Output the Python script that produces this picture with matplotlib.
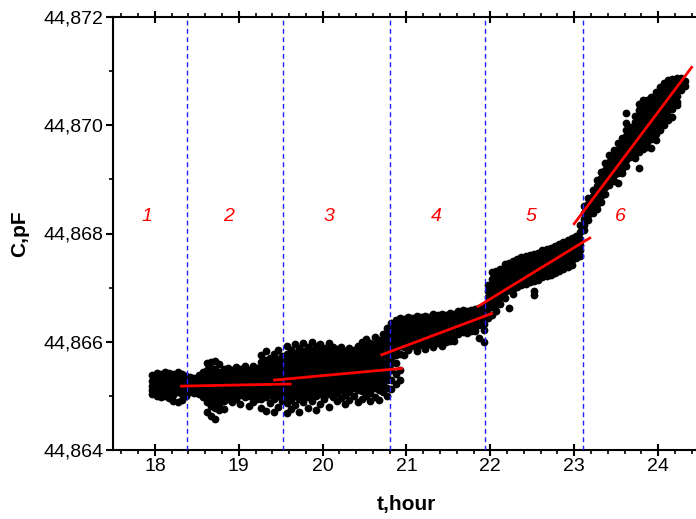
import numpy as np
import matplotlib
matplotlib.use("Agg")
import matplotlib.pyplot as plt
from matplotlib.ticker import MultipleLocator, FuncFormatter

plt.rcParams['font.family'] = ['Liberation Sans', 'DejaVu Sans']

# measured capacitance, grouped by time column (hours), one list of C values (pF) per column
t_seg1 = [17.97, 18.02, 18.07, 18.12, 18.17, 18.22, 18.27, 18.32, 18.37]
c_seg1 = [
    [44.86538, 44.86528, 44.86519, 44.86510, 44.86503],
    [44.86543, 44.86533, 44.86524, 44.86515, 44.86506, 44.86499],
    [44.86541, 44.86531, 44.86522, 44.86513, 44.86505, 44.86497],
    [44.86545, 44.86536, 44.86526, 44.86517, 44.86508, 44.86500],
    [44.86542, 44.86532, 44.86523, 44.86514, 44.86504, 44.86496],
    [44.86540, 44.86530, 44.86520, 44.86511, 44.86502, 44.86490],
    [44.86544, 44.86535, 44.86525, 44.86516, 44.86507, 44.86488],
    [44.86541, 44.86531, 44.86522, 44.86512, 44.86503, 44.86492],
    [44.86536, 44.86527, 44.86518, 44.86509, 44.86500],
]

t_seg2 = [18.42, 18.47, 18.52, 18.57, 18.62, 18.67, 18.72, 18.77, 18.82, 18.87,
          18.92, 18.97, 19.02, 19.07, 19.12, 19.17, 19.22, 19.27, 19.32, 19.37,
          19.42, 19.47, 19.52]
c_seg2 = [
    [44.86535, 44.86526, 44.86517, 44.86508],
    [44.86533, 44.86524, 44.86515, 44.86506],
    [44.86538, 44.86529, 44.86520, 44.86511, 44.86503],
    [44.86545, 44.86534, 44.86525, 44.86516, 44.86507, 44.86498],
    [44.86560, 44.86548, 44.86537, 44.86527, 44.86518, 44.86509, 44.86499, 44.86488, 44.86470],
    [44.86563, 44.86552, 44.86540, 44.86530, 44.86521, 44.86512, 44.86503, 44.86493, 44.86482, 44.86463],
    [44.86565, 44.86550, 44.86538, 44.86528, 44.86519, 44.86510, 44.86500, 44.86490, 44.86478, 44.86458],
    [44.86558, 44.86545, 44.86534, 44.86524, 44.86515, 44.86505, 44.86495, 44.86485, 44.86473],
    [44.86550, 44.86540, 44.86530, 44.86520, 44.86511, 44.86501, 44.86490, 44.86476],
    [44.86552, 44.86541, 44.86532, 44.86522, 44.86513, 44.86503, 44.86494],
    [44.86548, 44.86537, 44.86528, 44.86519, 44.86509, 44.86500, 44.86488],
    [44.86553, 44.86542, 44.86532, 44.86523, 44.86513, 44.86504, 44.86494],
    [44.86550, 44.86540, 44.86530, 44.86521, 44.86511, 44.86501, 44.86485],
    [44.86555, 44.86545, 44.86535, 44.86526, 44.86516, 44.86507, 44.86497],
    [44.86548, 44.86538, 44.86529, 44.86519, 44.86510, 44.86500, 44.86482],
    [44.86556, 44.86546, 44.86536, 44.86527, 44.86517, 44.86508, 44.86498, 44.86489],
    [44.86552, 44.86542, 44.86533, 44.86523, 44.86514, 44.86505, 44.86495],
    [44.86575, 44.86562, 44.86552, 44.86542, 44.86533, 44.86523, 44.86514, 44.86504, 44.86494, 44.86478],
    [44.86582, 44.86566, 44.86555, 44.86545, 44.86536, 44.86526, 44.86517, 44.86507, 44.86497, 44.86472],
    [44.86570, 44.86559, 44.86549, 44.86540, 44.86530, 44.86521, 44.86511, 44.86501, 44.86486],
    [44.86578, 44.86564, 44.86553, 44.86543, 44.86534, 44.86524, 44.86515, 44.86505, 44.86494, 44.86470],
    [44.86585, 44.86568, 44.86556, 44.86547, 44.86537, 44.86528, 44.86518, 44.86509, 44.86499, 44.86480],
    [44.86574, 44.86562, 44.86551, 44.86541, 44.86532, 44.86522, 44.86513, 44.86503, 44.86490],
]

t_seg3 = [19.57, 19.62, 19.67, 19.72, 19.77, 19.82, 19.87, 19.92, 19.97, 20.02,
          20.07, 20.12, 20.17, 20.22, 20.27, 20.32, 20.37, 20.42, 20.47, 20.52,
          20.57, 20.62, 20.67, 20.72, 20.77]
c_seg3 = [
    [44.86592, 44.86578, 44.86567, 44.86557, 44.86547, 44.86538, 44.86528, 44.86519, 44.86509, 44.86499, 44.86486, 44.86468],
    [44.86585, 44.86572, 44.86561, 44.86551, 44.86542, 44.86532, 44.86523, 44.86513, 44.86503, 44.86492, 44.86475],
    [44.86596, 44.86580, 44.86569, 44.86558, 44.86548, 44.86539, 44.86529, 44.86520, 44.86510, 44.86500, 44.86483],
    [44.86588, 44.86575, 44.86564, 44.86554, 44.86544, 44.86535, 44.86525, 44.86516, 44.86506, 44.86495, 44.86470],
    [44.86598, 44.86583, 44.86571, 44.86560, 44.86550, 44.86541, 44.86531, 44.86522, 44.86512, 44.86502, 44.86488],
    [44.86590, 44.86577, 44.86566, 44.86556, 44.86546, 44.86537, 44.86527, 44.86518, 44.86508, 44.86497, 44.86478],
    [44.86599, 44.86585, 44.86573, 44.86562, 44.86552, 44.86543, 44.86533, 44.86524, 44.86514, 44.86504, 44.86490],
    [44.86592, 44.86579, 44.86568, 44.86558, 44.86548, 44.86539, 44.86529, 44.86520, 44.86510, 44.86500, 44.86474],
    [44.86596, 44.86582, 44.86571, 44.86561, 44.86551, 44.86542, 44.86532, 44.86523, 44.86513, 44.86503, 44.86485],
    [44.86588, 44.86576, 44.86565, 44.86555, 44.86546, 44.86536, 44.86527, 44.86517, 44.86507, 44.86494],
    [44.86598, 44.86584, 44.86572, 44.86562, 44.86552, 44.86543, 44.86533, 44.86524, 44.86514, 44.86504, 44.86480],
    [44.86590, 44.86578, 44.86567, 44.86557, 44.86548, 44.86538, 44.86529, 44.86519, 44.86509, 44.86497],
    [44.86586, 44.86575, 44.86564, 44.86554, 44.86545, 44.86535, 44.86526, 44.86516, 44.86505, 44.86490],
    [44.86590, 44.86579, 44.86568, 44.86558, 44.86549, 44.86539, 44.86530, 44.86520, 44.86510, 44.86496],
    [44.86583, 44.86572, 44.86562, 44.86552, 44.86543, 44.86533, 44.86524, 44.86514, 44.86502, 44.86485],
    [44.86588, 44.86577, 44.86566, 44.86556, 44.86547, 44.86537, 44.86528, 44.86518, 44.86508, 44.86493],
    [44.86584, 44.86573, 44.86563, 44.86553, 44.86544, 44.86534, 44.86525, 44.86515, 44.86500],
    [44.86592, 44.86580, 44.86569, 44.86559, 44.86550, 44.86540, 44.86531, 44.86521, 44.86511, 44.86488],
    [44.86600, 44.86588, 44.86577, 44.86567, 44.86557, 44.86548, 44.86538, 44.86529, 44.86519, 44.86509, 44.86495],
    [44.86606, 44.86593, 44.86582, 44.86571, 44.86561, 44.86552, 44.86542, 44.86533, 44.86523, 44.86513, 44.86500],
    [44.86598, 44.86586, 44.86575, 44.86565, 44.86555, 44.86546, 44.86536, 44.86527, 44.86517, 44.86505, 44.86490],
    [44.86609, 44.86595, 44.86583, 44.86572, 44.86562, 44.86553, 44.86543, 44.86534, 44.86524, 44.86514, 44.86498],
    [44.86604, 44.86591, 44.86580, 44.86569, 44.86559, 44.86550, 44.86540, 44.86531, 44.86521, 44.86510, 44.86492],
    [44.86615, 44.86602, 44.86590, 44.86579, 44.86569, 44.86559, 44.86550, 44.86540, 44.86531, 44.86521, 44.86508],
    [44.86626, 44.86612, 44.86600, 44.86589, 44.86579, 44.86569, 44.86559, 44.86550, 44.86540, 44.86530, 44.86515, 44.86500],
]

t_seg4 = [20.82, 20.87, 20.92, 20.97, 21.02, 21.07, 21.12, 21.17, 21.22, 21.27,
          21.32, 21.37, 21.42, 21.47, 21.52, 21.57, 21.62, 21.67, 21.72, 21.77,
          21.82, 21.87, 21.92]
c_seg4 = [
    [44.86634, 44.86622, 44.86611, 44.86600, 44.86590, 44.86580, 44.86570, 44.86560, 44.86548, 44.86530, 44.86512],
    [44.86640, 44.86628, 44.86617, 44.86606, 44.86596, 44.86586, 44.86575, 44.86560, 44.86540, 44.86522],
    [44.86644, 44.86633, 44.86622, 44.86612, 44.86602, 44.86592, 44.86578, 44.86548, 44.86530],
    [44.86642, 44.86631, 44.86620, 44.86610, 44.86600, 44.86591, 44.86575],
    [44.86645, 44.86634, 44.86623, 44.86613, 44.86603, 44.86594, 44.86585],
    [44.86643, 44.86632, 44.86621, 44.86611, 44.86601, 44.86592],
    [44.86647, 44.86636, 44.86625, 44.86615, 44.86605, 44.86595, 44.86583],
    [44.86645, 44.86634, 44.86624, 44.86614, 44.86604, 44.86594],
    [44.86648, 44.86637, 44.86626, 44.86616, 44.86606, 44.86596, 44.86586],
    [44.86646, 44.86635, 44.86625, 44.86615, 44.86605, 44.86595],
    [44.86651, 44.86640, 44.86629, 44.86619, 44.86609, 44.86599, 44.86590],
    [44.86649, 44.86638, 44.86628, 44.86618, 44.86608, 44.86598],
    [44.86652, 44.86641, 44.86631, 44.86621, 44.86611, 44.86601, 44.86592],
    [44.86650, 44.86639, 44.86629, 44.86619, 44.86609, 44.86600],
    [44.86653, 44.86642, 44.86632, 44.86622, 44.86612, 44.86602],
    [44.86651, 44.86640, 44.86630, 44.86620, 44.86610, 44.86601],
    [44.86656, 44.86645, 44.86635, 44.86625, 44.86615],
    [44.86658, 44.86647, 44.86637, 44.86627, 44.86618],
    [44.86657, 44.86646, 44.86636, 44.86626, 44.86617],
    [44.86659, 44.86648, 44.86638, 44.86628, 44.86619],
    [44.86660, 44.86649, 44.86639, 44.86629, 44.86620],
    [44.86662, 44.86651, 44.86641, 44.86631, 44.86607],
    [44.86664, 44.86653, 44.86643, 44.86633, 44.86622, 44.86600],
]

t_seg5 = [21.97, 22.02, 22.07, 22.12, 22.17, 22.22, 22.27, 22.32, 22.37, 22.42,
          22.47, 22.52, 22.57, 22.62, 22.67, 22.72, 22.77, 22.82, 22.87, 22.92,
          22.97, 23.02, 23.07]
c_seg5 = [
    [44.86705, 44.86694, 44.86683, 44.86672, 44.86662, 44.86652, 44.86643],
    [44.86728, 44.86716, 44.86705, 44.86694, 44.86684, 44.86674, 44.86664, 44.86650],
    [44.86731, 44.86720, 44.86709, 44.86698, 44.86688, 44.86678, 44.86668, 44.86656],
    [44.86735, 44.86724, 44.86713, 44.86703, 44.86693, 44.86683, 44.86670],
    [44.86744, 44.86733, 44.86722, 44.86712, 44.86702, 44.86692, 44.86681],
    [44.86746, 44.86735, 44.86725, 44.86715, 44.86705, 44.86695, 44.86662],
    [44.86750, 44.86739, 44.86728, 44.86718, 44.86708, 44.86698, 44.86688],
    [44.86752, 44.86741, 44.86731, 44.86721, 44.86711, 44.86701],
    [44.86756, 44.86745, 44.86735, 44.86725, 44.86715, 44.86705],
    [44.86758, 44.86747, 44.86737, 44.86727, 44.86717, 44.86707],
    [44.86760, 44.86749, 44.86739, 44.86729, 44.86719, 44.86710],
    [44.86762, 44.86751, 44.86741, 44.86731, 44.86721, 44.86712, 44.86694, 44.86686],
    [44.86764, 44.86753, 44.86743, 44.86733, 44.86723, 44.86714],
    [44.86769, 44.86758, 44.86748, 44.86738, 44.86728, 44.86719],
    [44.86771, 44.86760, 44.86750, 44.86740, 44.86730, 44.86721],
    [44.86774, 44.86763, 44.86753, 44.86743, 44.86733, 44.86724],
    [44.86777, 44.86766, 44.86756, 44.86746, 44.86736, 44.86727],
    [44.86780, 44.86769, 44.86759, 44.86749, 44.86739, 44.86730],
    [44.86784, 44.86773, 44.86763, 44.86753, 44.86743, 44.86734],
    [44.86788, 44.86777, 44.86767, 44.86757, 44.86747, 44.86738],
    [44.86792, 44.86781, 44.86771, 44.86761, 44.86751, 44.86742],
    [44.86795, 44.86784, 44.86774, 44.86764, 44.86754],
    [44.86815, 44.86802, 44.86790, 44.86779, 44.86769, 44.86759],
]

t_seg6 = [23.12, 23.17, 23.22, 23.27, 23.32, 23.37, 23.42, 23.47, 23.52, 23.57,
          23.62, 23.67, 23.72, 23.77, 23.82, 23.87, 23.92, 23.97, 24.02, 24.07,
          24.12, 24.17, 24.22, 24.27, 24.32]
c_seg6 = [
    [44.86850, 44.86838, 44.86827, 44.86816, 44.86806],
    [44.86866, 44.86855, 44.86844, 44.86834, 44.86825],
    [44.86880, 44.86869, 44.86858, 44.86847, 44.86838],
    [44.86899, 44.86887, 44.86876, 44.86865, 44.86855, 44.86845],
    [44.86914, 44.86902, 44.86891, 44.86880, 44.86869, 44.86858],
    [44.86930, 44.86918, 44.86907, 44.86896, 44.86885, 44.86873],
    [44.86945, 44.86933, 44.86922, 44.86911, 44.86900, 44.86889],
    [44.86954, 44.86942, 44.86931, 44.86920, 44.86909, 44.86897],
    [44.86967, 44.86955, 44.86944, 44.86933, 44.86922, 44.86911, 44.86893],
    [44.86976, 44.86964, 44.86953, 44.86942, 44.86931, 44.86920, 44.86912],
    [44.87023, 44.87004, 44.86991, 44.86980, 44.86969, 44.86958, 44.86947, 44.86936, 44.86925],
    [44.86997, 44.86986, 44.86975, 44.86964, 44.86953, 44.86942],
    [44.87018, 44.87006, 44.86995, 44.86984, 44.86973, 44.86962, 44.86951, 44.86940],
    [44.87040, 44.87028, 44.87017, 44.87006, 44.86995, 44.86984, 44.86973, 44.86962, 44.86951, 44.86921],
    [44.87046, 44.87034, 44.87023, 44.87012, 44.87001, 44.86990, 44.86979, 44.86968, 44.86956],
    [44.87047, 44.87035, 44.87024, 44.87013, 44.87002, 44.86991, 44.86980, 44.86969, 44.86960],
    [44.87052, 44.87040, 44.87029, 44.87018, 44.87007, 44.86996, 44.86985, 44.86974, 44.86958],
    [44.87061, 44.87049, 44.87038, 44.87027, 44.87016, 44.87005, 44.86994, 44.86983, 44.86972],
    [44.87070, 44.87058, 44.87047, 44.87036, 44.87025, 44.87014, 44.87003, 44.86992],
    [44.87078, 44.87066, 44.87055, 44.87044, 44.87033, 44.87022, 44.87011, 44.87000],
    [44.87084, 44.87072, 44.87061, 44.87050, 44.87039, 44.87028, 44.87017, 44.87010],
    [44.87086, 44.87074, 44.87063, 44.87052, 44.87041, 44.87030, 44.87016],
    [44.87088, 44.87076, 44.87065, 44.87054, 44.87043, 44.87037],
    [44.87087, 44.87076, 44.87065],
    [44.87082, 44.87072],
]

# linear fits (start / end of each red line)
fit_t0 = [18.30, 19.41, 20.69, 21.84, 22.99]
fit_t1 = [19.63, 20.96, 22.03, 23.20, 24.41]
fit_c0 = [44.86518, 44.86529, 44.86575, 44.86664, 44.86816]
fit_c1 = [44.86522, 44.86551, 44.86653, 44.86793, 44.87109]

# boundaries between stages
borders = [18.38, 19.53, 20.80, 21.94, 23.10]

# stage numbers
stage_labels = ['1', '2', '3', '4', '5', '6']
stage_t = [17.905, 18.88, 20.08, 21.35, 22.49, 23.55]
stage_c = 44.86831

fig = plt.figure(figsize=(6.96, 5.19), dpi=100)
ax = fig.add_axes([113 / 696, 69 / 519, 587 / 696, 433 / 519])

all_t = []
all_c = []
for ts, cs in [(t_seg1, c_seg1), (t_seg2, c_seg2), (t_seg3, c_seg3),
               (t_seg4, c_seg4), (t_seg5, c_seg5), (t_seg6, c_seg6)]:
    for t, col in zip(ts, cs):
        all_t += [t] * len(col)
        all_c += col

ax.plot(all_t, all_c, 'o', color='black', markersize=5.6, markeredgewidth=0, zorder=2)

for b in borders:
    ax.axvline(b, color='#2222ff', linestyle=(0, (3.5, 2.5)), linewidth=1.0, zorder=3)

for t0, t1, c0, c1 in zip(fit_t0, fit_t1, fit_c0, fit_c1):
    ax.plot([t0, t1], [c0, c1], color='red', linewidth=2.0, zorder=4, solid_capstyle='butt')

for lab, t in zip(stage_labels, stage_t):
    ax.text(t, stage_c, lab, color='red', fontsize=14, fontstyle='italic',
            ha='center', va='center')

ax.set_xlim(17.5, 24.5)
ax.set_ylim(44.864, 44.872)

ax.xaxis.set_major_locator(MultipleLocator(1))
ax.xaxis.set_minor_locator(MultipleLocator(0.2))
ax.yaxis.set_major_locator(MultipleLocator(0.002))
ax.yaxis.set_minor_locator(MultipleLocator(0.001))
ax.yaxis.set_major_formatter(FuncFormatter(lambda v, p: ('%.3f' % v).replace('.', ',')))

for s in ax.spines.values():
    s.set_linewidth(1.5)
ax.spines['right'].set_visible(False)

ax.tick_params(axis='x', which='major', direction='inout', length=8, width=1.5,
               labelsize=14, pad=2, top=True)
ax.tick_params(axis='x', which='minor', direction='out', length=3, width=1.2, top=True)
ax.tick_params(axis='y', which='major', direction='out', length=5, width=1.5,
               labelsize=14, pad=2)
ax.tick_params(axis='y', which='minor', direction='out', length=3, width=1.2)

ax.set_xlabel('t,hour', fontsize=15, fontweight='bold', labelpad=14)
ax.set_ylabel('C,pF', fontsize=15, fontweight='bold', labelpad=10)

fig.savefig('out.png', dpi=100)
